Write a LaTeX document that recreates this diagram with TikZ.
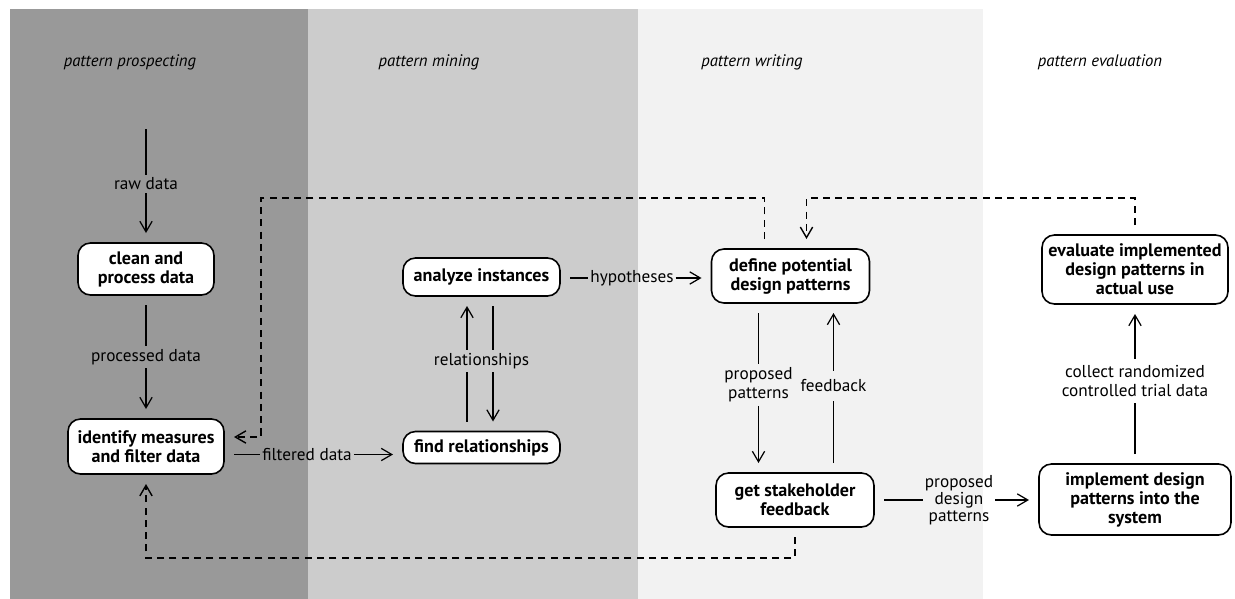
\documentclass[tikz,border=0pt]{standalone}
\usepackage{fontspec}
\setmainfont{PT Sans}
\usetikzlibrary{arrows.meta,positioning}
\definecolor{prospect}{HTML}{999999}
\definecolor{mining}{HTML}{CCCCCC}
\definecolor{writing}{HTML}{F2F2F2}
\begin{document}
\begin{tikzpicture}[font=\fontsize{9.8}{11}\selectfont,
  box/.style={draw,fill=white,rounded corners=0.25cm,line width=0.9pt,align=center,inner sep=0pt,outer sep=0.2cm,font=\fontsize{10.3}{10.8}\selectfont\bfseries},
  lbl/.style={align=center,inner xsep=1pt,inner ysep=0.06cm},
  phase/.style={font=\fontsize{9.5}{10.5}\selectfont\itshape},
  link/.style={line width=0.7pt},
  flow/.style={link,-{Straight Barb[length=6pt,width=7pt]}},
  fb/.style={flow,line width=0.8pt,dash pattern=on 4pt off 3pt}]
\useasboundingbox(0,0)rectangle(24.7,-11.98);
\fill[prospect](0.2,-0.18)rectangle(6.16,-11.98);
\fill[mining](6.16,-0.18)rectangle(12.76,-11.98);
\fill[writing](12.76,-0.18)rectangle(19.66,-11.98);
\node[phase](prospecting)at(2.6,-1.24){pattern prospecting};
\node[phase](mining)at(8.58,-1.24){pattern mining};
\node[phase](writing)at(15.04,-1.24){pattern writing};
\node[phase](evaluation)at(22.0,-1.24){pattern evaluation};
\node[box,minimum width=2.72cm,minimum height=1.04cm](clean)at(2.92,-5.38){clean and\\process data};
\node[box,minimum width=3.12cm,minimum height=1.1cm](identify)at(2.92,-8.93){identify measures\\and filter data};
\node[box,minimum width=3.14cm,minimum height=0.76cm](analyze)at(9.63,-5.54){analyze instances};
\node[box,minimum width=3.14cm,minimum height=0.64cm](find)at(9.63,-8.95){find relationships};
\node[box,minimum width=3.16cm,minimum height=1.08cm](define)at(15.81,-5.52){define potential\\design patterns};
\node[box,minimum width=3.16cm,minimum height=1.08cm](stake)at(15.9,-10.0){get stakeholder\\feedback};
\node[box,minimum width=3.72cm,minimum height=1.38cm](evaluate)at(22.7,-5.39){evaluate implemented\\design patterns in\\actual use};
\node[box,minimum width=3.84cm,minimum height=1.42cm](implement)at(22.7,-9.99){implement design\\patterns into the\\system};
\coordinate(rawin)at(2.92,-2.58);
\node[lbl](raw)at(2.92,-3.68){raw data};
\draw[link](rawin)--(raw);
\draw[flow](raw)--(clean);
\node[lbl](processed)at(2.92,-7.14){processed data};
\draw[link](clean)--(processed);
\draw[flow](processed)--(identify);
\node[lbl](filtered)at(6.14,-9.09){filtered data};
\draw[link](identify.east|-filtered)--(filtered);
\draw[flow](filtered)--(find.west|-filtered);
\node[lbl](hypo)at(12.64,-5.56){hypotheses};
\draw[link](analyze.east|-hypo)--(hypo);
\draw[flow](hypo)--(define.west|-hypo);
\node[lbl](rel)at(9.63,-7.22){relationships};
\draw[link]([xshift=-0.29cm]find.north)--([xshift=-0.29cm]rel.south);
\draw[flow]([xshift=-0.29cm]rel.north)--([xshift=-0.29cm]analyze.south);
\draw[link]([xshift=0.23cm]analyze.south)--([xshift=0.23cm]rel.north);
\draw[flow]([xshift=0.23cm]rel.south)--([xshift=0.23cm]find.north);
\node[lbl](proposed)at(15.17,-7.7){proposed\\patterns};
\draw[link](define.south-|proposed)--(proposed);
\draw[flow](proposed)--(stake.north-|proposed);
\node[lbl,minimum height=0.6cm](feedback)at(16.67,-7.72){feedback};
\draw[link](stake.north-|feedback)--(feedback);
\draw[flow](feedback)--(define.south-|feedback);
\node[lbl,font=\fontsize{9.8}{9.6}\selectfont](pdp)at(19.18,-10.0){proposed\\design\\patterns};
\draw[link](stake.east|-pdp)--(pdp);
\draw[flow](pdp)--(implement.west|-pdp);
\node[lbl,minimum height=0.88cm](collect)at(22.7,-7.62){collect randomized\\controlled trial data};
\draw[link](implement)--(collect);
\draw[flow](collect)--(evaluate);
\coordinate(ret1)at(5.22,-3.96);
\coordinate(ret2)at(16.13,-3.96);
\coordinate(ret3)at(2.92,-11.16);
\draw[fb]([xshift=-0.52cm]define.north)|-(ret1)|-([yshift=0.19cm]identify.east);
\draw[fb](evaluate.north)|-(ret2)--([xshift=0.32cm]define.north);
\draw[fb](stake.south)|-(ret3)--(identify.south);
\end{tikzpicture}
\end{document}
